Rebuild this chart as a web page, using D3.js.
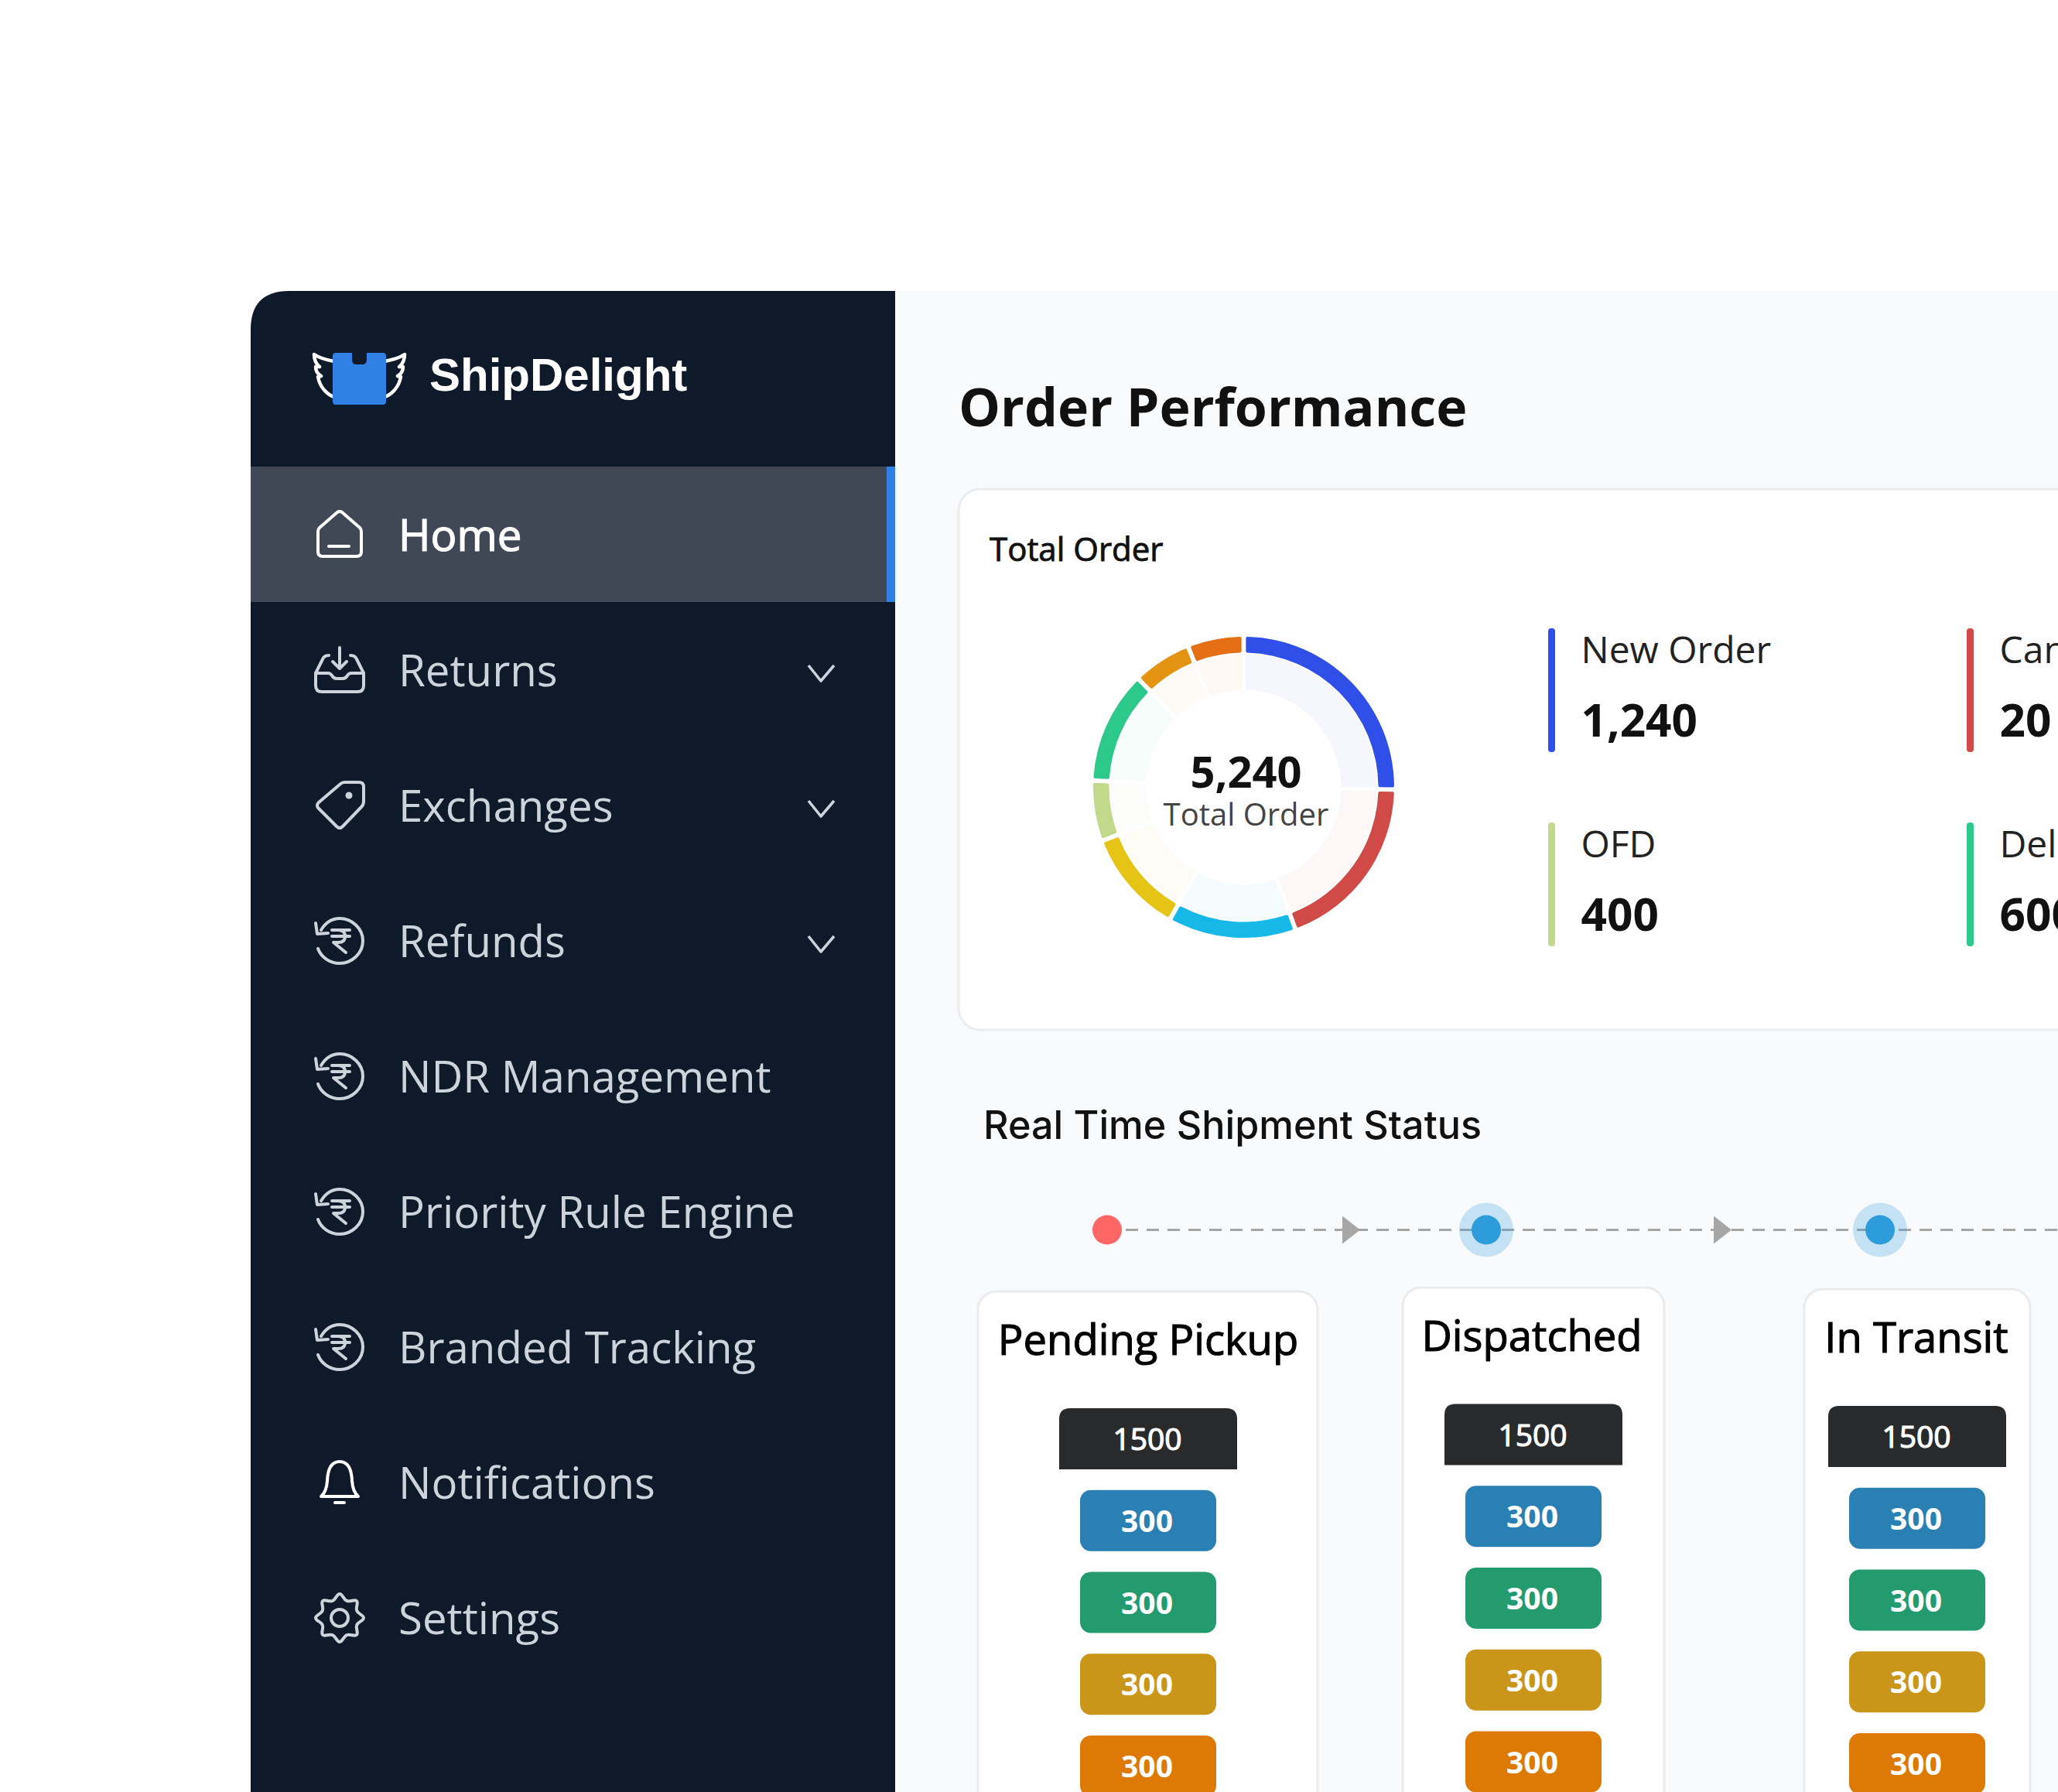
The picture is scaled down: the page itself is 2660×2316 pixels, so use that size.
<!DOCTYPE html>
<html>
<head>
<meta charset="utf-8">
<script src="https://cdn.jsdelivr.net/npm/d3@7"></script>
<style>
    html, body { margin: 0; padding: 0; background: #fff; overflow: hidden; }
    svg { display: block; }
    text { font-family: "Open Sans", "Noto Sans", sans-serif; }
</style>
</head>
<body>
<svg id="chart" width="2660" height="2316"></svg>
<script>
const menuItems = ["Home", "Returns", "Exchanges", "Refunds", "NDR Management", "Priority Rule Engine", "Branded Tracking", "Notifications", "Settings"];
const menuIcons = ["home", "tray", "tag", "rupee", "rupee", "rupee", "rupee", "bell", "gear"];
const menuWithChevron = ["Returns", "Exchanges", "Refunds"];

const donutShares = [25.6, 19.4, 13.7, 11.1, 6.3, 12, 6.1, 5.8];
const donutColors = ["#2f4fe8", "#d04a47", "#15b8e6", "#e6c416", "#c2d98c", "#2cc98b", "#e59312", "#e56f14"];
const donutTotal = "5,240";

const legendLabels = ["New Order", "Cancelled", "OFD", "Delivered"];
const legendValues = ["1,240", "20", "400", "600"];
const legendColors = ["#2f4fe8", "#d04a47", "#c2d98c", "#2cc98b"];

const stageNames = ["Pending Pickup", "Dispatched", "In Transit"];
const stageTotals = [1500, 1500, 1500];
const stageParts = [300, 300, 300, 300];
const partColors = ["#2a7fb3", "#249a6f", "#c9961a", "#dd7a05"];

const width = 2660;
const height = 2316;
const svg = d3.select("#chart");

const sidebarRight = 1157;
const panelLeft = 324;
const panelTop = 376;

// Background panels
svg.append("path")
    .attr("d", `M${panelLeft},${height} V${panelTop + 50} Q${panelLeft},${panelTop} ${panelLeft + 50},${panelTop} H${sidebarRight} V${height} Z`)
    .attr("fill", "#0e1a2a");
svg.append("rect")
    .attr("x", sidebarRight)
    .attr("y", panelTop)
    .attr("width", width - sidebarRight)
    .attr("height", height - panelTop)
    .attr("fill", "#f8fafc");

// Logo
const logo = svg.append("g");
const wing = "M0,0 C-12,-2 -20,-5 -26,-9 C-26,-2 -24,3 -19,7 L-24,7 C-24,12 -22,16 -17,19 L-21,20 C-19,32 -10,44 3,47";
logo.append("path")
    .attr("d", wing)
    .attr("transform", "translate(432,467)")
    .attr("fill", "none")
    .attr("stroke", "#fff")
    .attr("stroke-width", 4.5)
    .attr("stroke-linejoin", "round");
logo.append("path")
    .attr("d", wing)
    .attr("transform", "translate(497,467) scale(-1,1)")
    .attr("fill", "none")
    .attr("stroke", "#fff")
    .attr("stroke-width", 4.5)
    .attr("stroke-linejoin", "round");
logo.append("path")
    .attr("d", "M434,456 H455 V465 Q455,471 461,471 H468 Q474,471 474,465 V456 H495 Q499,456 499,460 V519 Q499,523 495,523 H434 Q430,523 430,519 V460 Q430,456 434,456 Z")
    .attr("fill", "#3180e6");
logo.append("text")
    .attr("x", 555)
    .attr("y", 505)
    .attr("fill", "#fff")
    .style("font-family", "'Liberation Sans', Arial, sans-serif")
    .style("font-weight", 700)
    .style("font-size", "60px")
    .text("ShipDelight");

// Sidebar menu
const menuY = d3.scalePoint()
    .domain(menuItems)
    .range([691, 2091]);

svg.append("rect")
    .attr("x", panelLeft)
    .attr("y", 603)
    .attr("width", sidebarRight - panelLeft)
    .attr("height", 175)
    .attr("fill", "#414855");
svg.append("rect")
    .attr("x", 1146)
    .attr("y", 603)
    .attr("width", sidebarRight - 1146)
    .attr("height", 175)
    .attr("fill", "#3180e6");

const drawIcon = (group, kind) => {
    const line = group.append("g")
        .attr("fill", "none")
        .attr("stroke-width", 4)
        .attr("stroke-linecap", "round")
        .attr("stroke-linejoin", "round");
    if (kind === "home") {
        line.append("path").attr("d", "M-3,-29 Q0,-31 3,-29 L26,-9 Q28,-7 28,-4 V22 Q28,28 22,28 H-22 Q-28,28 -28,22 V-4 Q-28,-7 -26,-9 Z");
        line.append("path").attr("d", "M-14,15 H12");
    } else if (kind === "tray") {
        line.append("path").attr("d", "M-14,-19 Q-20,-19 -22,-14 L-31,4 V20 Q-31,28 -23,28 H23 Q31,28 31,20 V4 L22,-14 Q20,-19 14,-19");
        line.append("path").attr("d", "M-31,4 H-15 Q-12,4 -10,7 Q-8,11 -4,11 H4 Q8,11 10,7 Q12,4 15,4 H31");
        line.append("path").attr("d", "M0,-29 V-3 M-9,-11 L0,-2 L9,-11");
    } else if (kind === "tag") {
        line.append("path").attr("d", "M6,-30 H25 Q31,-30 31,-24 V-5 Q31,-1 28,2 L4,27 Q0,31 -4,27 L-27,4 Q-31,0 -27,-4 L0,-27 Q3,-30 6,-30 Z");
        line.append("circle").attr("cx", 12).attr("cy", -13).attr("r", 2.5).attr("fill", "currentColor");
    } else if (kind === "rupee") {
        line.append("path").attr("d", "M-24,-14 C-18,-24 -9,-29 0,-29 C16,-29 30,-16 30,0 C30,16 16,29 0,29 C-13,29 -24,21 -28,10");
        line.append("path").attr("d", "M-31,-23 L-29,-9 L-15,-10");
        line.append("path").attr("d", "M-10,-14 H13 M-10,-6 H13 M-8,-14 H-2 Q7,-14 7,-6 Q7,2 -2,2 H-8 L8,15");
    } else if (kind === "bell") {
        line.append("path").attr("d", "M-24,18 Q-17,12 -16,-2 Q-15,-27 0,-27 Q15,-27 16,-2 Q17,12 24,18 Z");
        line.append("path").attr("d", "M-6,26 H6");
    } else {
        const lobes = d3.range(16).map(i => [i * Math.PI / 8, i % 2 === 0 ? 31 : 24]);
        line.append("path").attr("d", d3.lineRadial().curve(d3.curveCardinalClosed.tension(-0.3))(lobes));
        line.append("circle").attr("r", 11);
    }
};

const items = svg.selectAll("g.menu-item")
    .data(menuItems)
    .enter()
    .append("g")
    .attr("class", "menu-item")
    .attr("transform", d => `translate(0, ${menuY(d)})`);

// Open Sans has no medium cut here, a thin stroke stands in for it
items.append("text")
    .attr("x", 515)
    .attr("y", 20.5)
    .attr("fill", (d, i) => i === 0 ? "#fff" : "#ccd3da")
    .attr("stroke", (d, i) => i === 0 ? "#fff" : "none")
    .attr("stroke-width", 1.2)
    .style("font-size", "56.4px")
    .text(d => d);

items.append("g")
    .attr("transform", "translate(439, 0)")
    .style("color", (d, i) => i === 0 || i === 7 ? "#fff" : "#ccd3da")
    .attr("stroke", "currentColor")
    .each(function (d, i) {
        drawIcon(d3.select(this), menuIcons[i]);
    });

items.filter(d => menuWithChevron.includes(d))
    .append("path")
    .attr("d", "M1045,-6 L1061,14 L1078,-6")
    .attr("fill", "none")
    .attr("stroke", "#ccd3da")
    .attr("stroke-width", 3.6)
    .attr("stroke-linejoin", "round");

// Heading and main card
svg.append("text")
    .attr("x", 1239)
    .attr("y", 551)
    .attr("fill", "#111")
    .style("font-size", "68px")
    .style("font-weight", 700)
    .text("Order Performance");

svg.append("rect")
    .attr("x", 1239)
    .attr("y", 632)
    .attr("width", 1600)
    .attr("height", 699)
    .attr("rx", 28)
    .attr("fill", "#fff")
    .attr("stroke", "#e9edf1")
    .attr("stroke-width", 3);

svg.append("text")
    .attr("x", 1279)
    .attr("y", 725)
    .attr("fill", "#111")
    .attr("stroke", "#111")
    .attr("stroke-width", 0.9)
    .style("font-size", "42px")
    .text("Total Order");

// Donut
const donut = svg.append("g")
    .attr("transform", "translate(1607.5, 1017.5)");
const pie = d3.pie()
    .sort(null)
    .padAngle(0.022);
const slices = pie(donutShares);
const paleArc = d3.arc().innerRadius(126).outerRadius(172);
const ringArc = d3.arc().innerRadius(174).outerRadius(194.5).cornerRadius(2);

donut.selectAll("path.pale")
    .data(slices)
    .enter()
    .append("path")
    .attr("class", "pale")
    .attr("d", paleArc)
    .attr("fill", (d, i) => donutColors[i])
    .attr("fill-opacity", 0.045);
donut.selectAll("path.ring")
    .data(slices)
    .enter()
    .append("path")
    .attr("class", "ring")
    .attr("d", ringArc)
    .attr("fill", (d, i) => donutColors[i]);
donut.append("text")
    .attr("x", 3)
    .attr("y", 0)
    .attr("text-anchor", "middle")
    .attr("fill", "#111")
    .style("font-size", "56px")
    .style("font-weight", 700)
    .text(donutTotal);
donut.append("text")
    .attr("x", 3)
    .attr("y", 49)
    .attr("text-anchor", "middle")
    .attr("fill", "#444")
    .style("font-size", "40px")
    .text("Total Order");

// Legend
const legendX = d3.scalePoint().domain([0, 1]).range([2001, 2542]);
const legendY = d3.scalePoint().domain([0, 1]).range([812, 1063]);
const legend = svg.selectAll("g.legend")
    .data(legendLabels)
    .enter()
    .append("g")
    .attr("class", "legend")
    .attr("transform", (d, i) => `translate(${legendX(i % 2)}, ${legendY(Math.floor(i / 2))})`);
legend.append("rect")
    .attr("width", 9)
    .attr("height", 160)
    .attr("rx", 4)
    .attr("fill", (d, i) => legendColors[i]);
legend.append("text")
    .attr("x", 42.5)
    .attr("y", 45)
    .attr("fill", "#222")
    .style("font-size", "48px")
    .text(d => d);
legend.append("text")
    .attr("x", 42.5)
    .attr("y", 140)
    .attr("fill", "#111")
    .style("font-size", "58.5px")
    .style("font-weight", 700)
    .text((d, i) => legendValues[i]);

// Shipment status
svg.append("text")
    .attr("x", 1271)
    .attr("y", 1472)
    .attr("fill", "#111")
    .style("font-family", "Inter, sans-serif")
    .style("font-size", "50.3px")
    .style("font-weight", 500)
    .text("Real Time Shipment Status");

const timelineY = 1589.5;
svg.append("line")
    .attr("x1", 1455)
    .attr("x2", width)
    .attr("y1", timelineY)
    .attr("y2", timelineY)
    .attr("stroke", "#a6a6a6")
    .attr("stroke-width", 3)
    .attr("stroke-dasharray", "16 11");

const arrowX = [1735, 2215];
const nodeX = [1921, 2430];
svg.selectAll("path.arrow")
    .data(arrowX)
    .enter()
    .append("path")
    .attr("class", "arrow")
    .attr("d", d => `M${d},${timelineY - 18} L${d + 23},${timelineY} L${d},${timelineY + 18} Z`)
    .attr("fill", "#a6a6a6");
svg.append("circle")
    .attr("cx", 1431)
    .attr("cy", timelineY)
    .attr("r", 19)
    .attr("fill", "#ff6666");
svg.selectAll("circle.halo")
    .data(nodeX)
    .enter()
    .append("circle")
    .attr("class", "halo")
    .attr("cx", d => d)
    .attr("cy", timelineY)
    .attr("r", 35)
    .attr("fill", "#2d9cdb")
    .attr("fill-opacity", 0.25);
svg.selectAll("circle.node")
    .data(nodeX)
    .enter()
    .append("circle")
    .attr("class", "node")
    .attr("cx", d => d)
    .attr("cy", timelineY)
    .attr("r", 19)
    .attr("fill", "#2d9cdb");

// Stage cards
const cardLeft = [1264, 1813, 2332];
const cardRight = [1703, 2151, 2624];
const cardTop = [1669, 1664, 1666];
const badgeCenter = [1484, 1982, 2478];
const titleCenter = [1484, 1980, 2477];
const stageShift = [3, -2.5, 0];

const badgeWidth = d3.scaleLinear().domain([300, 1500]).range([176, 230]);
const rowLabels = d3.range(stageParts.length + 1);
const rowY = d3.scalePoint()
    .domain(rowLabels)
    .range([1817, 2240]);
const rowHeight = 79;

const cards = svg.selectAll("g.stage")
    .data(stageNames)
    .enter()
    .append("g")
    .attr("class", "stage");

cards.append("rect")
    .attr("x", (d, i) => cardLeft[i])
    .attr("y", (d, i) => cardTop[i])
    .attr("width", (d, i) => cardRight[i] - cardLeft[i])
    .attr("height", 800)
    .attr("rx", 24)
    .attr("fill", "#fff")
    .attr("stroke", "#e9ebee")
    .attr("stroke-width", 3);

cards.append("text")
    .attr("x", (d, i) => titleCenter[i])
    .attr("y", (d, i) => cardTop[i] + 82)
    .attr("text-anchor", "middle")
    .attr("fill", "#000")
    .attr("stroke", "#000")
    .attr("stroke-width", 1.1)
    .style("font-size", "54.4px")
    .text(d => d);

cards.each(function (name, s) {
    const card = d3.select(this);
    const cx = badgeCenter[s];
    const totalW = badgeWidth(stageTotals[s]);
    const top = rowY(0) + stageShift[s];
    const r = 14;

    card.append("path")
        .attr("d", `M${cx - totalW / 2},${top + rowHeight} V${top + r} Q${cx - totalW / 2},${top} ${cx - totalW / 2 + r},${top} H${cx + totalW / 2 - r} Q${cx + totalW / 2},${top} ${cx + totalW / 2},${top + r} V${top + rowHeight} Z`)
        .attr("fill", "#282a2c");
    card.append("text")
        .attr("x", cx - 1)
        .attr("y", top + 54)
        .attr("text-anchor", "middle")
        .attr("fill", "#fff")
        .attr("stroke", "#fff")
        .attr("stroke-width", 1.2)
        .style("font-size", "39px")
        .text(stageTotals[s]);

    const parts = card.selectAll("g.part")
        .data(stageParts)
        .enter()
        .append("g")
        .attr("class", "part")
        .attr("transform", (d, i) => `translate(${cx}, ${rowY(i + 1) + stageShift[s]})`);
    parts.append("rect")
        .attr("x", d => -badgeWidth(d) / 2)
        .attr("width", d => badgeWidth(d))
        .attr("height", rowHeight)
        .attr("rx", 14)
        .attr("fill", (d, i) => partColors[i]);
    parts.append("text")
        .attr("x", -1.5)
        .attr("y", 54)
        .attr("text-anchor", "middle")
        .attr("fill", "#fff")
        .style("font-size", "39px")
        .style("font-weight", 700)
        .text(d => d);
});
</script>
</body>
</html>
